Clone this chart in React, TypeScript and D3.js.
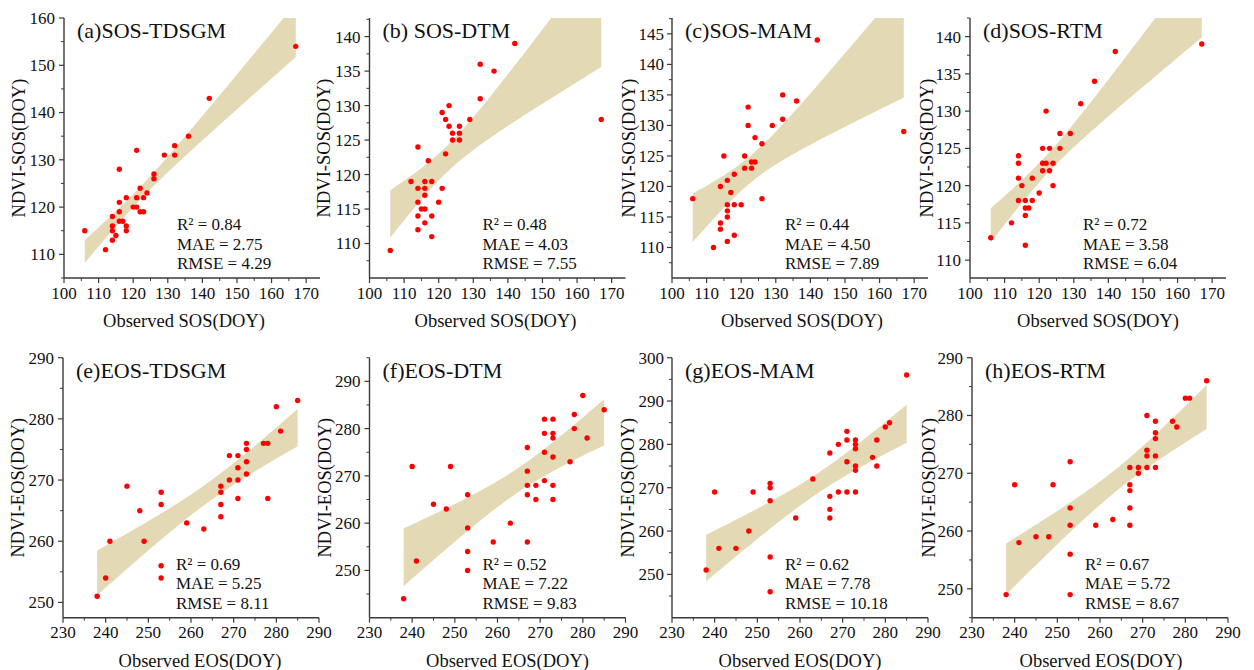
import React from 'react';
import * as d3 from 'd3';

// ---------- data ----------
const sosTdsgmObs = [106,112,114,114,114,114,115,116,116,116,116,117,118,118,118,120,121,121,121,122,122,123,123,124,126,126,129,132,132,136,142,167];
const sosTdsgmPred = [115,111,113,115,116,118,114,117,119,121,128,117,116,115,122,120,120,122,132,124,119,119,122,123,126,127,131,131,133,135,143,154];

const sosDtmObs = [106,112,114,114,114,114,114,115,116,116,116,116,116,117,118,118,118,120,121,121,122,122,123,123,124,124,126,126,126,129,132,132,136,142,167];
const sosDtmPred = [109,119,124,118,116,114,112,115,115,119,118,117,113,122,119,114,111,116,118,129,123,128,130,127,126,125,127,126,125,128,131,136,135,139,128];

const sosMamObs = [106,112,114,114,114,115,116,116,116,116,116,117,118,118,118,120,121,121,122,122,123,123,124,124,126,126,129,132,132,136,142,167];
const sosMamPred = [118,110,120,114,113,125,121,117,116,115,111,119,122,117,112,117,125,123,130,133,123,124,124,128,127,118,130,131,135,134,144,129];

const sosRtmObs = [106,112,114,114,114,114,115,116,116,116,116,117,118,118,120,121,121,121,122,122,123,123,124,124,126,126,129,132,136,142,167];
const sosRtmPred = [113,115,124,123,121,118,120,118,117,116,112,117,121,118,119,125,123,122,123,130,125,122,123,120,127,125,127,131,134,138,139];

const eosTdsgmObs = [238,240,241,245,248,249,253,253,253,253,259,263,267,267,267,267,269,269,271,271,271,271,273,273,273,273,277,278,278,280,281,285];
const eosTdsgmPred = [251,254,260,269,265,260,268,266,256,254,263,262,269,268,266,264,274,270,274,272,270,267,276,275,273,271,276,276,267,282,278,283];

const eosDtmObs = [238,240,241,245,248,249,253,253,253,253,259,263,267,267,267,267,267,269,269,271,271,271,271,273,273,273,273,273,273,277,278,278,280,281,285];
const eosDtmPred = [244,272,252,264,263,272,266,259,254,250,256,260,276,271,268,266,256,268,265,282,279,275,269,282,279,278,274,268,265,273,283,280,287,278,284];

const eosMamObs = [238,240,241,245,248,249,253,253,253,253,253,259,263,267,267,267,267,269,269,271,271,271,271,273,273,273,273,273,273,277,278,278,280,281,285];
const eosMamPred = [251,269,256,256,260,269,271,270,267,254,246,263,272,278,268,265,263,280,269,283,281,276,269,281,280,279,275,274,269,277,281,275,284,285,296];

const eosRtmObs = [238,240,241,245,248,249,253,253,253,253,253,259,263,267,267,267,267,267,269,269,271,271,271,271,273,273,273,273,273,277,278,280,281,285];
const eosRtmPred = [249,268,258,259,259,268,272,264,261,256,249,261,262,271,268,267,264,261,271,270,280,274,273,271,279,277,276,273,271,279,278,283,283,286];

const panelTitles = ['(a)SOS-TDSGM', '(b) SOS-DTM', '(c)SOS-MAM', '(d)SOS-RTM', '(e)EOS-TDSGM', '(f)EOS-DTM', '(g)EOS-MAM', '(h)EOS-RTM'];
const r2Labels = ['0.84', '0.48', '0.44', '0.72', '0.69', '0.52', '0.62', '0.67'];
const maeLabels = ['2.75', '4.03', '4.50', '3.58', '5.25', '7.22', '7.78', '5.72'];
const rmseLabels = ['4.29', '7.55', '7.89', '6.04', '8.11', '9.83', '10.18', '8.67'];
const xTitles = ['Observed SOS(DOY)', 'Observed EOS(DOY)'];
const yTitles = ['NDVI-SOS(DOY)', 'NDVI-EOS(DOY)'];

const sosXTicks = [100, 110, 120, 130, 140, 150, 160, 170];
const eosXTicks = [230, 240, 250, 260, 270, 280, 290];
const yTickSets = [
  [110, 120, 130, 140, 150, 160],
  [110, 115, 120, 125, 130, 135, 140],
  [110, 115, 120, 125, 130, 135, 140, 145],
  [110, 115, 120, 125, 130, 135, 140],
  [250, 260, 270, 280, 290],
  [250, 260, 270, 280, 290],
  [250, 260, 270, 280, 290, 300],
  [250, 260, 270, 280, 290],
];
const yDomains: [number, number][] = [
  [105, 160], [105, 142.7], [105, 147.6], [107.6, 142.5],
  [247.5, 290], [240, 295], [240, 300], [245, 290],
];
const sosXDomain: [number, number] = [100, 174];
const eosXDomain: [number, number] = [230, 290];

const obsSets = [sosTdsgmObs, sosDtmObs, sosMamObs, sosRtmObs, eosTdsgmObs, eosDtmObs, eosMamObs, eosRtmObs];
const predSets = [sosTdsgmPred, sosDtmPred, sosMamPred, sosRtmPred, eosTdsgmPred, eosDtmPred, eosMamPred, eosRtmPred];

// ---------- layout ----------
const lefts = [64, 369.5, 672, 970, 63, 369.5, 672, 972];
const tops = [18, 18, 18, 18, 357.7, 357.7, 357.7, 357.7];
const PW = 256;
const PH = 260;
const xTitleOffsets = [120, 126, 130, 128, 137, 138, 128, 129];
const yTitleOffsets = [-39, -40, -37, -37, -39, -39, -38, -37];
const yLabelGaps = [9, 9, 8, 9, 9, 9, 8, 9];

const FONT = "'Liberation Serif', 'Times New Roman', Times, 'DejaVu Serif', serif";
const AXIS = '#3a3a3a';
const BAND = '#e3d9b5';

function tQuantile975(df: number) {
  const z = 1.959964;
  const g1 = (z ** 3 + z) / 4;
  const g2 = (5 * z ** 5 + 16 * z ** 3 + 3 * z) / 96;
  const g3 = (3 * z ** 7 + 19 * z ** 5 + 17 * z ** 3 - 15 * z) / 384;
  return z + g1 / df + g2 / df ** 2 + g3 / df ** 3;
}

function confBand(xs: number[], ys: number[], steps = 80) {
  const N = xs.length;
  const mx = d3.mean(xs) as number;
  const my = d3.mean(ys) as number;
  let sxx = 0, sxy = 0;
  xs.forEach((x, i) => { sxx += (x - mx) ** 2; sxy += (x - mx) * (ys[i] - my); });
  const b = sxy / sxx;
  const a = my - b * mx;
  let sse = 0;
  xs.forEach((x, i) => { sse += (ys[i] - a - b * x) ** 2; });
  const s = Math.sqrt(sse / (N - 2));
  const t = tQuantile975(N - 2);
  const [x0, x1] = d3.extent(xs) as [number, number];
  return d3.range(steps + 1).map((i) => {
    const x = x0 + ((x1 - x0) * i) / steps;
    const yhat = a + b * x;
    const h = t * s * Math.sqrt(1 / N + (x - mx) ** 2 / sxx);
    return { x, lo: yhat - h, hi: yhat + h };
  });
}

const txt = (size: number) => ({ fontFamily: FONT, fontSize: `${size}px` });

function Panel({ idx }: { idx: number }) {
  const isSos = idx < 4;
  const left = lefts[idx];
  const top = tops[idx];
  const xDomain = isSos ? sosXDomain : eosXDomain;
  const xTicks = isSos ? sosXTicks : eosXTicks;
  const yTicks = yTickSets[idx];
  const x = d3.scaleLinear().domain(xDomain).range([left, left + PW]);
  const y = d3.scaleLinear().domain(yDomains[idx]).range([top + PH, top]);
  const xs = obsSets[idx];
  const ys = predSets[idx];
  const band = confBand(xs, ys);
  const area = d3.area<{ x: number; lo: number; hi: number }>()
    .x((d) => x(d.x))
    .y0((d) => y(d.lo))
    .y1((d) => y(d.hi));
  const xStep = xTicks[1] - xTicks[0];
  const yStep = yTicks[1] - yTicks[0];
  const xMinor = d3.range(xTicks[0] + xStep / 2, xDomain[1] + 1e-6, xStep);
  const yd = yDomains[idx];
  const yMinor = d3.range(yTicks[0] - yStep / 2, yd[1] + 1e-6, yStep).filter((v) => v >= yd[0] - 1e-6);
  const bottom = top + PH;
  const clipId = `clip-${idx}`;
  return (
    <g>
      <defs>
        <clipPath id={clipId}>
          <rect x={left} y={top} width={PW} height={PH} />
        </clipPath>
      </defs>
      <path d={area(band) || ''} fill={BAND} clipPath={`url(#${clipId})`} />
      {xs.map((v, i) => (
        <circle key={i} cx={x(v)} cy={y(ys[i])} r={2.7} fill="#ff0000" />
      ))}
      <line x1={left} x2={left} y1={top} y2={bottom} stroke={AXIS} strokeWidth={1.4} />
      <line x1={left} x2={left + PW} y1={bottom} y2={bottom} stroke={AXIS} strokeWidth={1.4} />
      {xTicks.map((t) => (
        <g key={t}>
          <line x1={x(t)} x2={x(t)} y1={bottom} y2={bottom + 5} stroke={AXIS} strokeWidth={1.2} />
          <text x={x(t)} y={bottom + (isSos ? 21 : 20)} textAnchor="middle" style={txt(17)} fill="#111">{t}</text>
        </g>
      ))}
      {xMinor.map((t) => (
        <line key={`xm${t}`} x1={x(t)} x2={x(t)} y1={bottom} y2={bottom + 3} stroke={AXIS} strokeWidth={1} />
      ))}
      {yTicks.map((t) => (
        <g key={t}>
          <line x1={left - 5} x2={left} y1={y(t)} y2={y(t)} stroke={AXIS} strokeWidth={1.2} />
          <text x={left - yLabelGaps[idx]} y={y(t)} dy="0.35em" textAnchor="end" style={txt(17)} fill="#111">{t}</text>
        </g>
      ))}
      {yMinor.map((t) => (
        <line key={`ym${t}`} x1={left - 3} x2={left} y1={y(t)} y2={y(t)} stroke={AXIS} strokeWidth={1} />
      ))}
      <text x={left + 13} y={top + 20} style={txt(22)} fill="#111">{panelTitles[idx]}</text>
      <text x={left + xTitleOffsets[idx]} y={bottom + (isSos ? 48.7 : 49)} textAnchor="middle" style={txt(18.5)} fill="#111">
        {isSos ? xTitles[0] : xTitles[1]}
      </text>
      <text
        transform={`translate(${left + yTitleOffsets[idx]},${top + PH / 2}) rotate(-90)`}
        textAnchor="middle"
        style={txt(18.5)}
        fill="#111"
      >
        {isSos ? yTitles[0] : yTitles[1]}
      </text>
      <g style={txt(17)} fill="#111">
        <text x={left + 113} y={bottom - 48}>{`R² = ${r2Labels[idx]}`}</text>
        <text x={left + 113} y={bottom - 28.5}>{`MAE = ${maeLabels[idx]}`}</text>
        <text x={left + 113} y={bottom - 9}>{`RMSE = ${rmseLabels[idx]}`}</text>
      </g>
    </g>
  );
}

export default function App() {
  return (
    <svg
      width={1254}
      height={670}
      style={{ position: 'absolute', left: 0, top: 0, background: '#fff' }}
    >
      <rect width={1254} height={670} fill="#fff" />
      {d3.range(8).map((i) => (
        <Panel key={i} idx={i} />
      ))}
    </svg>
  );
}
